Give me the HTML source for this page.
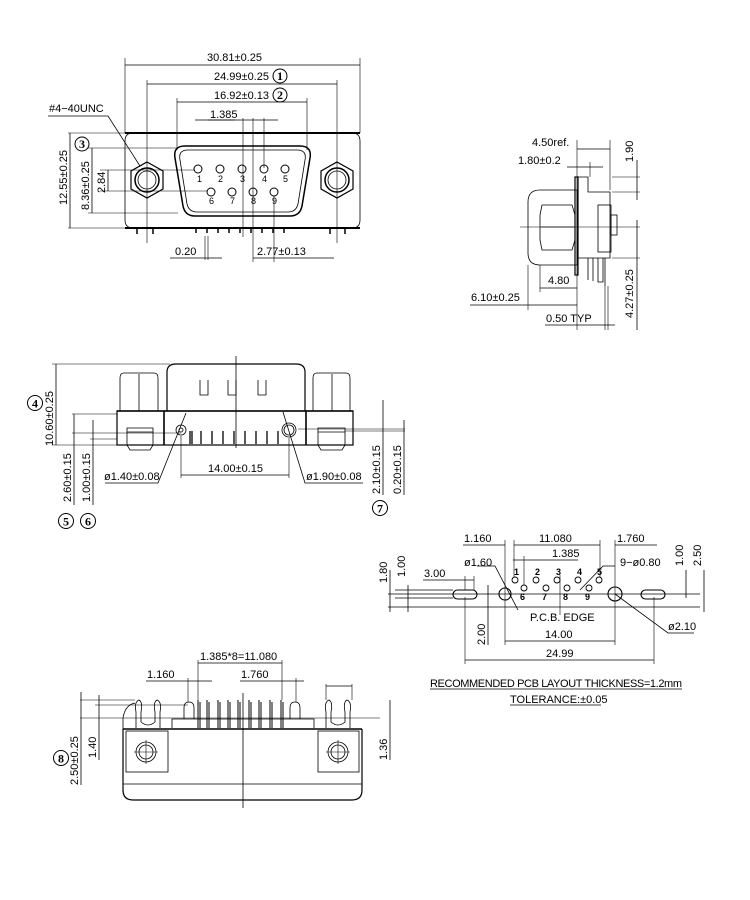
<!DOCTYPE html>
<html><head><meta charset="utf-8"><style>
html,body{margin:0;padding:0;background:#fff}
svg{display:block}
text{font-family:"Liberation Sans",sans-serif;font-size:11px;fill:#000}
.s{font-size:9px}
.c{font-family:"Liberation Serif",serif;font-size:12px;font-weight:bold;text-anchor:middle}
</style></head><body>
<svg width="750" height="900" viewBox="0 0 750 900" xmlns="http://www.w3.org/2000/svg" fill="none" stroke="#000" stroke-width="0.8">
<!-- circled numbers -->
<g stroke-width="1">
<circle cx="280" cy="76" r="7"/><circle cx="280" cy="95" r="7"/><circle cx="82" cy="144" r="7"/>
<circle cx="35" cy="403" r="7.5"/><circle cx="66" cy="521" r="7.5"/><circle cx="88" cy="521" r="7.5"/>
<circle cx="380" cy="508" r="7.5"/><circle cx="61" cy="758" r="7.5"/>
</g>
<g stroke="none" fill="#000">
<text x="280" y="80" class="c">1</text><text x="280" y="99" class="c">2</text><text x="82" y="148" class="c">3</text>
<text x="35" y="407.5" class="c">4</text><text x="66" y="525.5" class="c">5</text><text x="88" y="525.5" class="c">6</text>
<text x="380" y="512.5" class="c">7</text><text x="61" y="762.5" class="c">8</text>
</g>
<!-- ===== FRONT VIEW ===== -->
<g>
<path d="M133 133 H352 Q360 133 360 141 V220 Q360 228 352 228 H133 Q125 228 125 220 V141 Q125 133 133 133 Z"/>
<line x1="125" y1="133" x2="360" y2="133" stroke-width="2"/>
<line x1="125" y1="228" x2="360" y2="228" stroke-width="2"/>
<path d="M185 146 H300 Q312 146 310 158 L302 206 Q300 216 290 216 H195 Q185 216 183 206 L175 158 Q173 146 185 146 Z" stroke-width="1.5"/>
<path d="M188 150 H297 Q307 150 305 160 L298 204 Q296 212 288 212 H197 Q189 212 187 204 L180 160 Q178 150 188 150 Z"/>
<polygon points="147,162 163,171 163,189 147,198 131,189 131,171" stroke-width="1.2"/>
<circle cx="147" cy="180" r="12" stroke-width="1.5"/><circle cx="147" cy="180" r="9"/>
<polygon points="337,162 353,171 353,189 337,198 321,189 321,171" stroke-width="1.2"/>
<circle cx="337" cy="180" r="12" stroke-width="1.5"/><circle cx="337" cy="180" r="9"/>
<g stroke-width="1">
<circle cx="198" cy="169" r="4"/><circle cx="220" cy="169" r="4"/><circle cx="242" cy="169" r="4"/><circle cx="264" cy="169" r="4"/><circle cx="285" cy="169" r="4"/>
<circle cx="211" cy="192" r="4"/><circle cx="232" cy="192" r="4"/><circle cx="253" cy="192" r="4"/><circle cx="274" cy="192" r="4"/>
</g>
<g stroke="none" fill="#000">
<text x="197" y="182" class="s">1</text><text x="218" y="182" class="s">2</text><text x="240" y="182" class="s">3</text><text x="262" y="182" class="s">4</text><text x="283" y="182" class="s">5</text>
<text x="209" y="204" class="s">6</text><text x="230" y="204" class="s">7</text><text x="251" y="204" class="s">8</text><text x="272" y="204" class="s">9</text>
</g>
<g stroke-width="1.5">
<line x1="137" y1="229" x2="137" y2="234"/><line x1="153" y1="229" x2="153" y2="234"/>
<line x1="330" y1="229" x2="330" y2="234"/><line x1="345" y1="229" x2="345" y2="234"/>
<line x1="196" y1="229" x2="196" y2="233"/><line x1="207" y1="229" x2="207" y2="233"/><line x1="218" y1="229" x2="218" y2="233"/><line x1="229" y1="229" x2="229" y2="233"/><line x1="240" y1="229" x2="240" y2="233"/><line x1="251" y1="229" x2="251" y2="233"/><line x1="262" y1="229" x2="262" y2="233"/><line x1="273" y1="229" x2="273" y2="233"/><line x1="284" y1="229" x2="284" y2="233"/>
</g>
<line x1="147" y1="80" x2="147" y2="243" stroke-width="0.6"/>
<line x1="337" y1="80" x2="337" y2="243" stroke-width="0.6"/>
<line x1="125" y1="58" x2="125" y2="133" stroke-width="0.6"/>
<line x1="360" y1="58" x2="360" y2="133" stroke-width="0.6"/>
<line x1="177" y1="98" x2="177" y2="150" stroke-width="0.6"/>
<line x1="307" y1="98" x2="307" y2="150" stroke-width="0.6"/>
<line x1="243" y1="118" x2="243" y2="237" stroke-width="0.6"/>
<line x1="253" y1="118" x2="253" y2="262" stroke-width="0.6"/>
<line x1="264" y1="118" x2="264" y2="168" stroke-width="0.6"/>
<line x1="205" y1="236" x2="205" y2="260" stroke-width="0.6"/><line x1="208" y1="236" x2="208" y2="260" stroke-width="0.6"/>
<line x1="274" y1="196" x2="274" y2="262" stroke-width="0.6"/>
<line x1="125" y1="65" x2="360" y2="65"/>
<line x1="147" y1="84" x2="337" y2="84"/>
<line x1="177" y1="102" x2="307" y2="102"/>
<line x1="208" y1="120" x2="278" y2="120"/>
<line x1="170" y1="258" x2="222" y2="258"/>
<line x1="253" y1="258" x2="334" y2="258"/>
<line x1="68" y1="133" x2="125" y2="133" stroke-width="0.6"/>
<line x1="88" y1="148" x2="178" y2="148" stroke-width="0.6"/>
<line x1="100" y1="170" x2="195" y2="170" stroke-width="0.6"/>
<line x1="100" y1="191" x2="207" y2="191" stroke-width="0.6"/>
<line x1="88" y1="213" x2="178" y2="213" stroke-width="0.6"/>
<line x1="68" y1="228" x2="125" y2="228" stroke-width="0.6"/>
<line x1="70" y1="133" x2="70" y2="228"/>
<line x1="92" y1="148" x2="92" y2="213"/>
<line x1="108" y1="170" x2="108" y2="191"/>
<polyline points="48,116 108,116 140,166"/>
<line x1="195" y1="120" x2="235" y2="120"/>
<g stroke="none" fill="#000">
<text x="207" y="61">30.81±0.25</text>
<text x="214" y="80">24.99±0.25</text>
<text x="214" y="99">16.92±0.13</text>
<text x="210" y="118">1.385</text>
<text x="49" y="112">#4−40UNC</text>
<text x="175" y="255">0.20</text>
<text x="257" y="255">2.77±0.13</text>
<text transform="translate(67,205) rotate(-90)">12.55±0.25</text>
<text transform="translate(89,210) rotate(-90)">8.36±0.25</text>
<text transform="translate(105,193) rotate(-90)">2.84</text>
</g>
</g>

<!-- ===== SIDE VIEW ===== -->
<g>
<path d="M540 190 H577 V265 H540 Q528 265 528 253 V202 Q528 190 540 190 Z"/>
<path d="M542 205 H572 L575 215 V240 L572 250 H542 L540 240 V215 Z"/>
<line x1="541" y1="227" x2="574" y2="227"/>
<rect x="575" y="177" width="3" height="98" stroke-width="1.2"/>
<polyline points="578,177 588,177 588,192 610,192 610,258 578,258"/>
<rect x="598" y="205" width="13" height="47"/>
<rect x="611" y="215" width="6" height="20"/>
<path d="M588 258 V280 M593 258 V281 M598 258 V282 H603 V258 M605 258 V286"/>
<line x1="520" y1="227" x2="640" y2="227" stroke-width="0.6"/>
<line x1="577" y1="140" x2="577" y2="330" stroke-width="0.6"/>
<line x1="610" y1="140" x2="610" y2="190" stroke-width="0.6"/>
<line x1="590" y1="162" x2="590" y2="177" stroke-width="0.6"/>
<line x1="528" y1="265" x2="528" y2="310" stroke-width="0.6"/>
<line x1="540" y1="265" x2="540" y2="292" stroke-width="0.6"/>
<line x1="605" y1="286" x2="605" y2="330" stroke-width="0.6"/>
<line x1="608" y1="286" x2="608" y2="330" stroke-width="0.6"/>
<line x1="577" y1="149" x2="610" y2="149"/>
<line x1="567" y1="167" x2="603" y2="167"/>
<line x1="540" y1="288" x2="577" y2="288"/>
<line x1="470" y1="305" x2="577" y2="305"/>
<line x1="545" y1="325" x2="615" y2="325"/>
<line x1="612" y1="177" x2="640" y2="177" stroke-width="0.6"/>
<line x1="612" y1="192" x2="640" y2="192" stroke-width="0.6"/>
<line x1="612" y1="258" x2="640" y2="258" stroke-width="0.6"/>
<line x1="637" y1="160" x2="637" y2="200"/>
<line x1="637" y1="220" x2="637" y2="330"/>
<g stroke="none" fill="#000">
<text x="532" y="146">4.50ref.</text>
<text x="518" y="164">1.80±0.2</text>
<text x="548" y="284">4.80</text>
<text x="471" y="301">6.10±0.25</text>
<text x="546" y="322">0.50  TYP</text>
<text transform="translate(633,162) rotate(-90)">1.90</text>
<text transform="translate(633,318) rotate(-90)">4.27±0.25</text>
</g>
</g>

<!-- ===== BOTTOM-FACE VIEW ===== -->
<g>
<path d="M167 411 V372 Q167 364 176 364 H296 Q305 364 305 372 V411" stroke-width="1.2"/>
<path d="M200 380 V395 H208 V380 M228 380 V395 H236 V380 M258 380 V395 H266 V380"/>
<path d="M124 373 H154 Q158 373 158 378 V411 H120 V378 Q120 373 124 373 Z"/><line x1="139" y1="374" x2="139" y2="411"/>
<path d="M317 373 H346 Q350 373 350 378 V411 H313 V378 Q313 373 317 373 Z"/><line x1="332" y1="374" x2="332" y2="411"/>
<rect x="117" y="411" width="236" height="34" stroke-width="1.2"/>
<line x1="117" y1="411" x2="353" y2="411" stroke-width="1.6"/>
<line x1="164" y1="411" x2="164" y2="445" stroke-width="1.6"/>
<line x1="306" y1="411" x2="306" y2="445" stroke-width="1.6"/>
<path d="M127 428 H153 V445 L150 450 H130 L127 445 Z"/><line x1="127" y1="432" x2="153" y2="432"/>
<path d="M318 428 H345 V445 L342 450 H321 L318 445 Z"/><line x1="318" y1="432" x2="345" y2="432"/>
<circle cx="181" cy="430" r="5"/><circle cx="181" cy="430" r="2"/>
<circle cx="289" cy="430" r="7"/><circle cx="289" cy="430" r="5"/>
<path stroke-width="1.3" d="M190 431 V444 M192 431 V444 M201 431 V444 M212 431 V444 M223 431 V444 M234 431 V444 M245 431 V444 M256 431 V444 M267 431 V444 M278 431 V444"/>
<line x1="236" y1="356" x2="236" y2="448"/>
<line x1="52" y1="364" x2="170" y2="364" stroke-width="0.6"/>
<line x1="52" y1="445" x2="117" y2="445" stroke-width="0.6"/>
<line x1="72" y1="414" x2="117" y2="414" stroke-width="0.6"/>
<line x1="72" y1="433" x2="181" y2="433" stroke-width="0.6"/>
<line x1="90" y1="439" x2="117" y2="439" stroke-width="0.6"/>
<line x1="56" y1="364" x2="56" y2="445"/>
<line x1="74" y1="414" x2="74" y2="505"/>
<line x1="93" y1="420" x2="93" y2="505"/>
<line x1="298" y1="429" x2="405" y2="429" stroke-width="0.6"/>
<line x1="345" y1="431" x2="405" y2="431" stroke-width="0.6"/>
<line x1="383" y1="400" x2="383" y2="495"/>
<line x1="404" y1="420" x2="404" y2="495"/>
<line x1="181" y1="436" x2="181" y2="478" stroke-width="0.6"/>
<line x1="289" y1="438" x2="289" y2="478" stroke-width="0.6"/>
<line x1="181" y1="475" x2="289" y2="475"/>
<polyline points="105,483 158,483 186,413"/>
<polyline points="363,483 305,483 283,412"/>
<g stroke="none" fill="#000">
<text x="208" y="472">14.00±0.15</text>
<text x="104" y="480">ø1.40±0.08</text>
<text x="306" y="480">ø1.90±0.08</text>
<text transform="translate(53,446) rotate(-90)">10.60±0.25</text>
<text transform="translate(71,502) rotate(-90)">2.60±0.15</text>
<text transform="translate(90,502) rotate(-90)">1.00±0.15</text>
<text transform="translate(380,494) rotate(-90)">2.10±0.15</text>
<text transform="translate(401,494) rotate(-90)">0.20±0.15</text>
</g>
</g>

<!-- ===== PCB LAYOUT ===== -->
<g>
<line x1="388" y1="594" x2="700" y2="594"/>
<line x1="388" y1="607" x2="700" y2="607"/>
<line x1="395" y1="590" x2="453" y2="590"/><line x1="395" y1="598" x2="453" y2="598"/>
<rect x="453" y="590" width="24" height="9" rx="4.5" stroke-width="1.1"/>
<rect x="641" y="590" width="24" height="9" rx="4.5" stroke-width="1.1"/>
<circle cx="505" cy="594" r="6" stroke-width="1.1"/>
<circle cx="615" cy="594" r="7" stroke-width="1.1"/>
<g stroke-width="0.9">
<circle cx="515" cy="580" r="3"/><circle cx="536" cy="580" r="3"/><circle cx="557" cy="580" r="3"/><circle cx="578" cy="580" r="3"/><circle cx="599" cy="580" r="3"/>
<circle cx="524" cy="588" r="3"/><circle cx="546" cy="588" r="3"/><circle cx="567" cy="588" r="3"/><circle cx="589" cy="588" r="3"/>
</g>
<g stroke="none" fill="#000" font-weight="bold">
<text x="514" y="575" class="s">1</text><text x="535" y="575" class="s">2</text><text x="556" y="575" class="s">3</text><text x="577" y="575" class="s">4</text><text x="597" y="575" class="s">5</text>
<text x="520" y="600" class="s">6</text><text x="542" y="600" class="s">7</text><text x="563" y="600" class="s">8</text><text x="585" y="600" class="s">9</text>
</g>
<line x1="505" y1="540" x2="505" y2="645" stroke-width="0.6"/>
<line x1="615" y1="540" x2="615" y2="645" stroke-width="0.6"/>
<line x1="514" y1="540" x2="514" y2="577" stroke-width="0.6"/>
<line x1="600" y1="540" x2="600" y2="577" stroke-width="0.6"/>
<line x1="524" y1="556" x2="524" y2="585" stroke-width="0.6"/>
<line x1="560" y1="575" x2="560" y2="615" stroke-width="0.6"/>
<line x1="465" y1="597" x2="465" y2="664" stroke-width="0.6"/>
<line x1="654" y1="597" x2="654" y2="664" stroke-width="0.6"/>
<line x1="465" y1="576" x2="465" y2="590" stroke-width="0.6"/><line x1="474" y1="576" x2="474" y2="590" stroke-width="0.6"/>
<line x1="463" y1="545" x2="505" y2="545"/>
<line x1="514" y1="545" x2="600" y2="545"/>
<line x1="615" y1="545" x2="657" y2="545"/>
<line x1="513" y1="560" x2="578" y2="560"/>
<line x1="423" y1="580" x2="474" y2="580"/>
<line x1="505" y1="641" x2="615" y2="641"/>
<line x1="465" y1="660" x2="654" y2="660"/>
<line x1="390" y1="570" x2="390" y2="612"/>
<line x1="408" y1="585" x2="408" y2="612"/>
<line x1="488" y1="585" x2="488" y2="645"/>
<line x1="686" y1="570" x2="686" y2="598"/>
<line x1="704" y1="570" x2="704" y2="612"/>
<polyline points="477,566 495,566 518,610"/>
<polyline points="615,566 603,566 580,590"/>
<polyline points="694,633 668,633 615,594"/>
<g stroke="none" fill="#000">
<text x="464" y="542">1.160</text><text x="539" y="542">11.080</text><text x="617" y="542">1.760</text>
<text x="552" y="557">1.385</text>
<text x="464" y="566">ø1.60</text><text x="620" y="566">9−ø0.80</text>
<text x="424" y="577">3.00</text>
<text x="530" y="621">P.C.B. EDGE</text>
<text x="545" y="638">14.00</text>
<text x="546" y="657">24.99</text>
<text x="668" y="630">ø2.10</text>
<text transform="translate(387,583) rotate(-90)">1.80</text>
<text transform="translate(405,577) rotate(-90)">1.00</text>
<text transform="translate(485,645) rotate(-90)">2.00</text>
<text transform="translate(683,566) rotate(-90)">1.00</text>
<text transform="translate(701,566) rotate(-90)">2.50</text>
<text x="430" y="687" textLength="252">RECOMMENDED  PCB  LAYOUT  THICKNESS=1.2mm</text>
<text x="510" y="703">TOLERANCE:±0.05</text>
</g>
<line x1="430" y1="689" x2="682" y2="689"/>
<line x1="510" y1="705" x2="601" y2="705"/>
</g>

<!-- ===== BOTTOM VIEW ===== -->
<g>
<path d="M123 729 V790 Q123 800 133 800 H352 Q362 800 362 790 V729" stroke-width="1.2"/>
<line x1="123" y1="729" x2="362" y2="729" stroke-width="1.4"/>
<line x1="123" y1="784" x2="362" y2="784"/>
<rect x="126" y="731" width="42" height="41"/>
<circle cx="146" cy="752" r="10"/><circle cx="146" cy="752" r="7"/>
<line x1="134" y1="752" x2="158" y2="752" stroke-width="0.6"/><line x1="146" y1="740" x2="146" y2="764" stroke-width="0.6"/>
<rect x="318" y="731" width="41" height="41"/>
<circle cx="338" cy="752" r="10"/><circle cx="338" cy="752" r="7"/>
<line x1="326" y1="752" x2="350" y2="752" stroke-width="0.6"/><line x1="338" y1="740" x2="338" y2="764" stroke-width="0.6"/>
<path d="M172 728 V719 H314 V728"/>
<path d="M123 729 V718 Q125 705 135 703"/>
<path d="M136 728 V712 Q134 702 139 700 Q143 702 141 712 V722 Q148 728 155 722 V712 Q153 702 157 700 Q162 702 160 712 V728"/>
<path d="M326 728 V712 Q324 702 329 700 Q333 702 331 712 V722 Q338 728 345 722 V712 Q343 702 347 700 Q352 702 350 712 V728"/>
<path d="M184 719 V708 Q184 702 189 702 Q194 702 194 708 V719"/>
<path d="M290 719 V708 Q290 702 295 702 Q300 702 300 708 V719"/>
<g stroke-width="1">
<path d="M198 700 V728 M207 700 V728 M218 700 V728 M228 700 V728 M238 700 V728 M249 700 V728 M259 700 V728 M270 700 V728 M281 700 V728"/>
<path d="M200 702 V728 M209 702 V728 M220 702 V728 M230 702 V728 M240 702 V728 M251 702 V728 M261 702 V728 M272 702 V728 M283 702 V728"/>
</g>
<line x1="243" y1="693" x2="243" y2="808"/>
<line x1="80" y1="718" x2="380" y2="718" stroke-width="0.6"/>
<line x1="80" y1="700" x2="135" y2="700" stroke-width="0.6"/>
<line x1="95" y1="705" x2="188" y2="705" stroke-width="0.6"/>
<line x1="198" y1="660" x2="198" y2="700" stroke-width="0.6"/>
<line x1="282" y1="660" x2="282" y2="700" stroke-width="0.6"/>
<line x1="188" y1="678" x2="188" y2="702" stroke-width="0.6"/>
<line x1="296" y1="678" x2="296" y2="702" stroke-width="0.6"/>
<line x1="326" y1="684" x2="326" y2="700" stroke-width="0.6"/><line x1="352" y1="684" x2="352" y2="700" stroke-width="0.6"/>
<line x1="198" y1="663" x2="282" y2="663"/>
<line x1="146" y1="681" x2="212" y2="681"/>
<line x1="240" y1="681" x2="304" y2="681"/>
<line x1="326" y1="686" x2="352" y2="686"/>
<line x1="81" y1="692" x2="81" y2="785"/>
<line x1="99" y1="695" x2="99" y2="760"/>
<line x1="390" y1="700" x2="390" y2="760"/>
<g stroke="none" fill="#000">
<text x="200" y="660">1.385*8=11.080</text>
<text x="147" y="678">1.160</text>
<text x="241" y="678">1.760</text>
<text transform="translate(96,758) rotate(-90)">1.40</text>
<text transform="translate(78,785) rotate(-90)">2.50±0.25</text>
<text transform="translate(387,760) rotate(-90)">1.36</text>
</g>
</g>
</svg>
</body></html>
